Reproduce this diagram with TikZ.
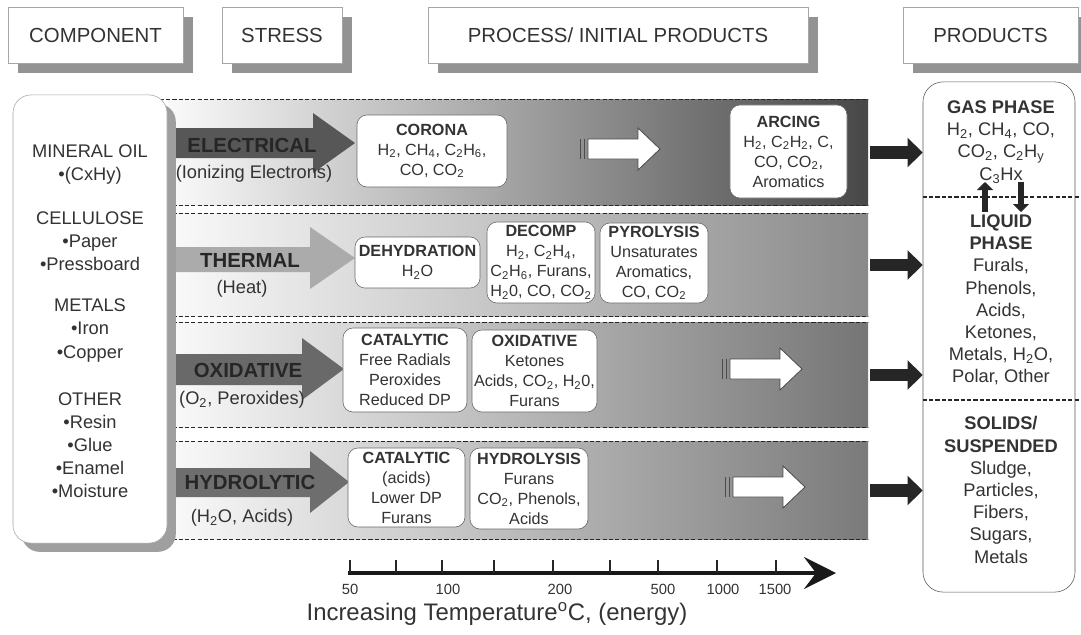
\documentclass[tikz,border=0pt]{standalone}
\usepackage{fontspec}
\setmainfont{Liberation Sans}
\usetikzlibrary{shadows}
\usetikzlibrary{arrows.meta}

\definecolor{inkgray}{HTML}{333333}
\definecolor{elecgray}{HTML}{575757}
\definecolor{thermgray}{HTML}{ABABAB}
\definecolor{oxidgray}{HTML}{696969}
\definecolor{hydrgray}{HTML}{6E6E6E}

\newcommand{\hdfont}{\fontsize{14.5}{16}\selectfont}
\newcommand{\compfont}{\fontsize{13}{16.4}\selectfont}
\newcommand{\procfont}{\fontsize{11.5}{14.2}\selectfont}
\newcommand{\prodfont}{\fontsize{13}{15.8}\selectfont}

\tikzset{
	hdbox/.style={draw=gray!70, fill=white, minimum height=1.4cm, font=\hdfont, text=inkgray,
		drop shadow={shadow xshift=0.25cm, shadow yshift=-0.25cm, fill=gray!85, opacity=1}},
	band/.style={inner sep=0pt, minimum width=17.5cm},
	dashln/.style={dash pattern=on 3pt off 1.5pt, line width=0.8pt, black!85},
	proc/.style={draw=gray!80!black, fill=white, rounded corners=0.25cm, align=center,
		font=\procfont, text=inkgray, inner sep=1pt},
	stresslab/.style={font=\fontsize{14.5}{16}\selectfont\bfseries, text=black!85},
	stresssub/.style={font=\compfont, text=inkgray},
	hollow/.style={draw=gray!60!black, fill=white, line width=0.6pt},
	blkarr/.style={line width=0.32cm, black!85, -{Triangle[length=0.38cm, width=0.72cm]}},
	phasearr/.style={line width=0.17cm, black!85, -{Triangle[length=0.2cm, width=0.4cm]}},
	prodtxt/.style={align=center, font=\prodfont, text=inkgray},
	ticklab/.style={font=\fontsize{10.5}{12}\selectfont, text=inkgray}
}

\begin{document}
\begin{tikzpicture}[x=0.025cm, y=-0.025cm]
	\useasboundingbox (0,0) rectangle (1081,634);

	% headers
	\node[hdbox, minimum width=4.375cm] (hcomp) at (95.5,35) {COMPONENT};
	\node[hdbox, minimum width=3cm] (hstress) at (282,35) {STRESS};
	\node[hdbox, minimum width=9.5cm] (hproc) at (618,35) {PROCESS/ INITIAL PRODUCTS};
	\node[hdbox, minimum width=4.375cm] (hprod) at (990.5,35) {PRODUCTS};

	% shaded bands
	\node[band, minimum height=2.625cm, left color=gray!4, right color=black!72] (band1) at (518,152.5) {};
	\node[band, minimum height=2.55cm, left color=gray!4, right color=black!46] (band2) at (518,265) {};
	\node[band, minimum height=2.6cm, left color=gray!4, right color=black!54] (band3) at (518,375) {};
	\node[band, minimum height=2.425cm, left color=gray!4, right color=black!52] (band4) at (518,490.5) {};
	\foreach \b in {band1,band2,band3,band4} {
		\draw[dashln] (\b.north west) ++(-8,0) -- (\b.north east);
		\draw[dashln] (\b.south west) ++(-8,0) -- (\b.south east);
	}

	% stress arrows
	\fill[elecgray] (168,128) -- (313,128) -- (313,113) -- (355,143) -- (313,173) -- (313,158) -- (168,158) -- cycle;
	\fill[thermgray] (168,247) -- (310,247) -- (310,227) -- (355,258) -- (310,289) -- (310,272) -- (168,272) -- cycle;
	\fill[oxidgray] (168,354) -- (302,354) -- (302,338) -- (344,369) -- (302,400) -- (302,385) -- (168,385) -- cycle;
	\fill[hydrgray] (168,468) -- (310,468) -- (310,451) -- (349,482) -- (310,513) -- (310,497) -- (168,497) -- cycle;
	\node[stresslab] (elec) at (252,145) {ELECTRICAL};
	\node[stresssub] (elecsub) at (254,174) {(Ionizing Electrons)};
	\node[stresslab] (therm) at (250,260) {THERMAL};
	\node[stresssub] (thermsub) at (242,289) {(Heat)};
	\node[stresslab] (oxid) at (248,370) {OXIDATIVE};
	\node[stresssub] (oxidsub) at (242,400) {(O\textsubscript{2}, Peroxides)};
	\node[stresslab] (hydr) at (250,482) {HYDROLYTIC};
	\node[stresssub] (hydrsub) at (242,518) {(H\textsubscript{2}O, Acids)};

	% process boxes
	\node[proc, minimum width=3.75cm, minimum height=1.8cm] (corona) at (432,151)
		{\textbf{CORONA}\\H\textsubscript{2}, CH\textsubscript{4}, C\textsubscript{2}H\textsubscript{6},\\CO, CO\textsubscript{2}};
	\node[proc, minimum width=2.925cm, minimum height=2.325cm] (arcing) at (788.5,151.5)
		{\textbf{ARCING}\\H\textsubscript{2}, C\textsubscript{2}H\textsubscript{2}, C,\\CO, CO\textsubscript{2},\\Aromatics};
	\node[proc, minimum width=3.125cm, minimum height=1.275cm] (dehyd) at (417.5,262.5)
		{\textbf{DEHYDRATION}\\H\textsubscript{2}O};
	\node[proc, minimum width=2.7cm, minimum height=2.025cm] (decomp) at (541,262.5)
		{\textbf{DECOMP}\\H\textsubscript{2}, C\textsubscript{2}H\textsubscript{4},\\C\textsubscript{2}H\textsubscript{6}, Furans,\\H\textsubscript{2}0, CO, CO\textsubscript{2}};
	\node[proc, minimum width=2.7cm, minimum height=2cm] (pyrol) at (654,263)
		{\textbf{PYROLYSIS}\\Unsaturates\\Aromatics,\\CO, CO\textsubscript{2}};
	\node[proc, minimum width=3.1cm, minimum height=2.1cm] (catoxid) at (405,370)
		{\textbf{CATALYTIC}\\Free Radials\\Peroxides\\Reduced DP};
	\node[proc, minimum width=3.125cm, minimum height=2.05cm] (oxidproc) at (534.5,371)
		{\textbf{OXIDATIVE}\\Ketones\\Acids, CO\textsubscript{2}, H\textsubscript{2}0,\\Furans};
	\node[proc, minimum width=2.925cm, minimum height=1.975cm] (cathydr) at (406.5,487.5)
		{\textbf{CATALYTIC}\\(acids)\\Lower DP\\Furans};
	\node[proc, minimum width=2.95cm, minimum height=2.025cm] (hydrproc) at (529,488.5)
		{\textbf{HYDROLYSIS}\\Furans\\CO\textsubscript{2}, Phenols,\\Acids};

	% hollow arrows
	\foreach \ax/\ay in {580/149, 722/369, 725/487} {
		\draw[hollow] (\ax+8,\ay-10) -- (\ax+58,\ay-10) -- (\ax+58,\ay-21) -- (\ax+80,\ay) -- (\ax+58,\ay+21) -- (\ax+58,\ay+10) -- (\ax+8,\ay+10) -- cycle;
		\draw[hollow] (\ax,\ay-10) -- (\ax,\ay+10);
		\draw[hollow] (\ax+4,\ay-10) -- (\ax+4,\ay+10);
	}

	% component box
	\node[draw=gray!70, fill=white, rounded corners=0.45cm, minimum width=3.85cm, minimum height=11.2cm,
		drop shadow={shadow xshift=0.22cm, shadow yshift=-0.22cm, fill=gray!75, opacity=1}] (comp) at (90,319) {};
	\node[align=center, font=\compfont, text=inkgray] (oil) at (90,164.5) {MINERAL OIL\\\textbullet(CxHy)};
	\node[align=center, font=\compfont, text=inkgray] (cellulose) at (90,241.5) {CELLULOSE\\\textbullet Paper\\\textbullet Pressboard};
	\node[align=center, font=\compfont, text=inkgray] (metals) at (90,330.5) {METALS\\\textbullet Iron\\\textbullet Copper};
	\node[align=center, font=\compfont, text=inkgray] (other) at (90,445) {OTHER\\\textbullet Resin\\\textbullet Glue\\\textbullet Enamel\\\textbullet Moisture};

	% products box
	\node[draw=gray!70!black, fill=white, rounded corners=0.5cm, minimum width=3.8cm, minimum height=12.75cm] (prod) at (999,337) {};
	\draw[dashln] (prod.west |- 0,197) -- (1081,197);
	\draw[dashln] (prod.west |- 0,400) -- (1081,400);
	\node[prodtxt] (gas) at (1001,142) {\textbf{GAS PHASE}\\H\textsubscript{2}, CH\textsubscript{4}, CO,\\CO\textsubscript{2}, C\textsubscript{2}H\textsubscript{y}\\C\textsubscript{3}Hx};
	\node[prodtxt] (liquid) at (1001,300) {\textbf{LIQUID}\\\textbf{PHASE}\\Furals,\\Phenols,\\Acids,\\Ketones,\\Metals, H\textsubscript{2}O,\\Polar, Other};
	\node[prodtxt] (solids) at (1001,490) {\textbf{SOLIDS/}\\\textbf{SUSPENDED}\\Sludge,\\Particles,\\Fibers,\\Sugars,\\Metals};
	\draw[phasearr] (985,212) -- (985,182);
	\draw[phasearr] (1021,182) -- (1021,212);

	% band to products
	\foreach \b in {band1,band2,band3,band4}
		\draw[blkarr] ([xshift=0.05cm]\b.east) -- (\b.east -| prod.west);

	% temperature axis
	\coordinate (tstart) at (348,573);
	\coordinate (tend) at (836,573);
	\draw[line width=0.1cm, black!90, -{Stealth[length=0.8cm, width=0.8cm, inset=0.3cm]}] (tstart) -- (tend);
	\foreach \tx in {350,396,442,494,553,610,658,717,776}
		\draw[line width=1.1pt, black!85] (\tx,560) -- (\tx,573);
	\foreach \tx/\tl in {350/50, 448/100, 560/200, 663/500, 723/1000, 775/1500}
		\node[ticklab] (lab\tl) at (\tx,589) {\tl};
	\node[font=\fontsize{17}{20}\selectfont, text=inkgray] (tempaxis) at (497,614) {Increasing Temperature\textsuperscript{o}C, (energy)};
\end{tikzpicture}
\end{document}
